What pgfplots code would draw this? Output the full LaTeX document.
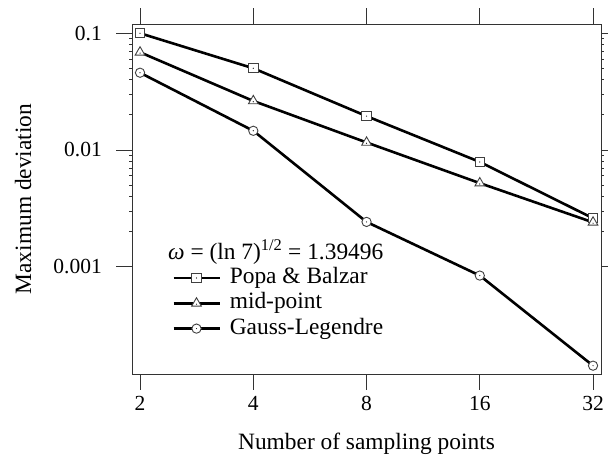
\documentclass[border=0pt]{standalone}
\usepackage{fontspec}
\setmainfont{Liberation Serif}
\usepackage{pgfplots}
\pgfplotsset{compat=1.18}

% open markers with a small centre dot
\pgfdeclareplotmark{dsquare}{%
  \pgfpathrectangle{\pgfqpoint{-\pgfplotmarksize}{-\pgfplotmarksize}}{\pgfqpoint{2\pgfplotmarksize}{2\pgfplotmarksize}}%
  \pgfusepathqfillstroke
  \begin{pgfscope}\pgfsetfillcolor{black}%
  \pgfpathcircle{\pgfpointorigin}{0.6pt}\pgfusepathqfill\end{pgfscope}}
\pgfdeclareplotmark{dtriangle}{%
  \pgfpathmoveto{\pgfqpointpolar{90}{\pgfplotmarksize}}%
  \pgfpathlineto{\pgfqpointpolar{-30}{\pgfplotmarksize}}%
  \pgfpathlineto{\pgfqpointpolar{210}{\pgfplotmarksize}}%
  \pgfpathclose
  \pgfusepathqfillstroke
  \begin{pgfscope}\pgfsetfillcolor{black}%
  \pgfpathcircle{\pgfqpoint{0pt}{-0.15\pgfplotmarksize}}{0.6pt}\pgfusepathqfill\end{pgfscope}}
\pgfdeclareplotmark{dcircle}{%
  \pgfpathcircle{\pgfpointorigin}{\pgfplotmarksize}%
  \pgfusepathqfillstroke
  \begin{pgfscope}\pgfsetfillcolor{black}%
  \pgfpathcircle{\pgfpointorigin}{0.6pt}\pgfusepathqfill\end{pgfscope}}

\begin{document}
\begin{tikzpicture}
\useasboundingbox (0,0) rectangle (608pt,455pt);
\begin{axis}[
  at={(132pt,81pt)}, anchor=south west,
  scale only axis, width=469pt, height=350pt,
  xmode=log, ymode=log, log basis x=2,
  xmin=1.904, xmax=33.6,
  ymin=1.205e-4, ymax=0.120,
  xtick={2,4,8,16,32}, xticklabels={2,4,8,16,32},
  ytick={0.001,0.01,0.1}, yticklabels={0.001,0.01,0.1},
  minor tick num=0, minor xtick={}, minor ytick={},
  tick align=outside, major tick length=16pt,
  xtick pos=both, ytick pos=both,
  every tick/.style={black!80, line width=0.9pt},
  axis line style={black!80, line width=0.9pt},
  ticklabel style={font=\fontsize{21.5}{24}\selectfont, inner sep=0pt},
  xticklabel style={yshift=-6pt},
  yticklabel style={xshift=-14pt},
  label style={font=\fontsize{23.4}{28}\selectfont},
  xlabel={Number of sampling points},
  ylabel={Maximum deviation},
  xlabel style={at={(axis description cs:0.5,-0.215)}, anchor=base},
  ylabel style={at={(axis description cs:-0.2324,0.5)}, anchor=center},
  clip=false,
  every axis plot/.append style={black, line width=2.6pt,
    mark options={solid, fill=white, draw=black!75, line width=0.9pt}},
  legend cell align=left,
  legend image code/.code={%
    \draw[mark repeat=2, mark phase=2] plot coordinates {(0pt,0pt) (23pt,0pt) (46pt,0pt)};},
  legend style={at={(axis description cs:0.0853,0.3077)}, anchor=north west,
    draw=none, fill=none, inner sep=0pt, row sep=2.3pt, column sep=9pt,
    font=\fontsize{23.4}{28}\selectfont,
    nodes={inner sep=0pt, text height=17pt, text depth=6pt}},
]
\addplot[mark=dsquare, mark size=4.65pt] coordinates {
  (2,0.1) (4,0.0501) (8,0.0195) (16,0.0079) (32,0.0026)};
\addlegendentry{Popa \& Balzar}
\addplot[mark=dtriangle, mark size=5.6pt] coordinates {
  (2,0.0687) (4,0.0263) (8,0.0116) (16,0.0052) (32,0.0024)};
\addlegendentry{mid-point}
\addplot[mark=dcircle, mark size=4.65pt] coordinates {
  (2,0.0459) (4,0.0146) (8,0.00242) (16,0.00084) (32,0.000142)};
\addlegendentry{Gauss-Legendre}
\end{axis}
\node[anchor=base west, inner sep=0pt, font=\fontsize{23.4}{28}\selectfont]
  at (168pt,195.7pt) {\textit{ω} = (ln 7)\textsuperscript{1/2} = 1.39496};
\end{tikzpicture}
\end{document}
